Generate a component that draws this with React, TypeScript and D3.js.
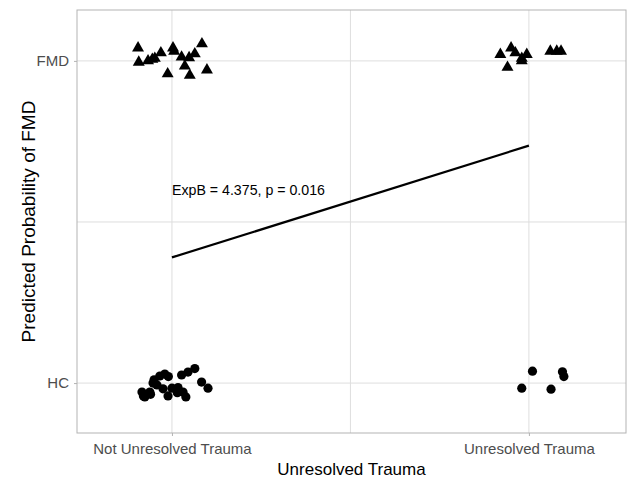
import React, { useEffect, useRef } from "react";
import * as d3 from "d3";

// x: 0 = Not Unresolved Trauma, 1 = Unresolved Trauma (jittered)
// y: 0 = HC, 1 = FMD (jittered)
const fmdX = [-0.095, -0.093, -0.067, -0.048, -0.031, 0.003, 0.006, 0.027, 0.048, 0.064, 0.084, 0.036, -0.012, 0.05, 0.098, -0.055, 0.92, 0.95, 0.962, 0.98, 0.994, 0.98, 0.94, 1.06, 1.09, 1.078];
const fmdY = [1.04, 0.996, 1.0, 1.008, 1.025, 1.04, 1.03, 1.012, 1.01, 1.022, 1.053, 0.984, 0.96, 0.955, 0.972, 1.005, 1.02, 1.04, 1.025, 1.008, 1.02, 1.0, 0.98, 1.03, 1.03, 1.03];

const hcX = [-0.084, -0.076, -0.062, -0.042, -0.034, -0.02, -0.053, -0.025, -0.011, 0.0, 0.017, 0.031, 0.039, 0.027, 0.045, 0.064, 0.083, 0.101, -0.08, -0.01, -0.05, -0.06, 0.015, 1.01, 0.98, 1.062, 1.094, 1.098];
const hcY = [-0.028, -0.043, -0.028, -0.006, 0.022, 0.028, 0.0, -0.018, -0.04, -0.016, -0.014, -0.028, -0.043, 0.025, 0.034, 0.045, 0.003, -0.016, -0.04, 0.02, 0.01, -0.035, -0.03, 0.037, -0.016, -0.019, 0.035, 0.02];

const lineX = [0, 1];
const lineY = [0.39, 0.737];

const xTickValues = [0, 1];
const xTickLabels = ["Not Unresolved Trauma", "Unresolved Trauma"];
const yTickValues = [0, 1];
const yTickLabels = ["HC", "FMD"];
const xMinor = [0.5];
const yMinor = [0.5];

const annotation = { x: 0, y: 0.6, text: "ExpB = 4.375, p = 0.016" };

const App: React.FC = () => {
  const svgRef = useRef<SVGSVGElement | null>(null);

  useEffect(() => {
    const width = 630;
    const height = 479;
    const margin = { top: 10, right: 4, bottom: 46, left: 77 };
    const font = "'Liberation Sans', Arial, sans-serif";

    const svg = d3.select(svgRef.current).attr("width", width).attr("height", height);
    svg.selectAll("*").remove();

    const x = d3.scaleLinear().domain([-0.266, 1.272]).range([margin.left, width - margin.right]);
    const y = d3.scaleLinear().domain([-0.155, 1.158]).range([height - margin.bottom, margin.top]);

    const grid = "#dedede";

    // Grid lines
    const g = svg.append("g");
    [...xTickValues, ...xMinor].forEach((v) => {
      g.append("line")
        .attr("x1", x(v)).attr("x2", x(v))
        .attr("y1", margin.top).attr("y2", height - margin.bottom)
        .attr("stroke", grid).attr("stroke-width", 1);
    });
    [...yTickValues, ...yMinor].forEach((v) => {
      g.append("line")
        .attr("x1", margin.left).attr("x2", width - margin.right)
        .attr("y1", y(v)).attr("y2", y(v))
        .attr("stroke", grid).attr("stroke-width", 1);
    });

    // Panel border
    svg.append("rect")
      .attr("x", margin.left).attr("y", margin.top)
      .attr("width", width - margin.left - margin.right)
      .attr("height", height - margin.top - margin.bottom)
      .attr("fill", "none").attr("stroke", "#b3b3b3").attr("stroke-width", 1);

    // Axes
    const xAxis = svg.append("g")
      .attr("transform", `translate(0,${height - margin.bottom})`)
      .call(
        d3.axisBottom(x).tickValues(xTickValues)
          .tickFormat((_, i) => xTickLabels[i]).tickSize(3).tickPadding(7)
      );
    const yAxis = svg.append("g")
      .attr("transform", `translate(${margin.left},0)`)
      .call(
        d3.axisLeft(y).tickValues(yTickValues)
          .tickFormat((_, i) => yTickLabels[i]).tickSize(3).tickPadding(5)
      );
    [xAxis, yAxis].forEach((a) => {
      a.select(".domain").remove();
      a.selectAll(".tick line").attr("stroke", "#b3b3b3");
      a.selectAll(".tick text")
        .attr("fill", "#4d4d4d")
        .style("font-family", font)
        .style("font-size", "15px");
    });

    // Axis titles
    svg.append("text")
      .attr("x", (margin.left + width - margin.right) / 2)
      .attr("y", 475)
      .attr("text-anchor", "middle")
      .style("font-family", font).style("font-size", "17px")
      .text("Unresolved Trauma");
    svg.append("text")
      .attr("transform", `translate(35,${(margin.top + height - margin.bottom) / 2}) rotate(-90)`)
      .attr("text-anchor", "middle")
      .style("font-family", font).style("font-size", "19px")
      .text("Predicted Probability of FMD");

    // Fitted line
    const line = d3.line<number>().x((d) => x(d)).y((_, i) => y(lineY[i]));
    svg.append("path")
      .datum(lineX)
      .attr("d", line)
      .attr("fill", "none").attr("stroke", "black").attr("stroke-width", 2.2);

    // Annotation
    svg.append("text")
      .attr("x", x(annotation.x)).attr("y", y(annotation.y) + 5)
      .style("font-family", font).style("font-size", "14.2px")
      .text(annotation.text);

    // Triangles (FMD)
    const tri = d3.symbol().type(d3.symbolTriangle).size(62);
    svg.append("g").selectAll("path")
      .data(fmdX.map((v, i) => [v, fmdY[i]]))
      .join("path")
      .attr("d", tri)
      .attr("transform", (d) => `translate(${x(d[0])},${y(d[1])})`)
      .attr("fill", "black");

    // Circles (HC)
    svg.append("g").selectAll("circle")
      .data(hcX.map((v, i) => [v, hcY[i]]))
      .join("circle")
      .attr("cx", (d) => x(d[0]))
      .attr("cy", (d) => y(d[1]))
      .attr("r", 4.6)
      .attr("fill", "black");
  }, []);

  return (
    <svg
      ref={svgRef}
      style={{ position: "absolute", left: 0, top: 0, background: "white" }}
    ></svg>
  );
};

export default App;
